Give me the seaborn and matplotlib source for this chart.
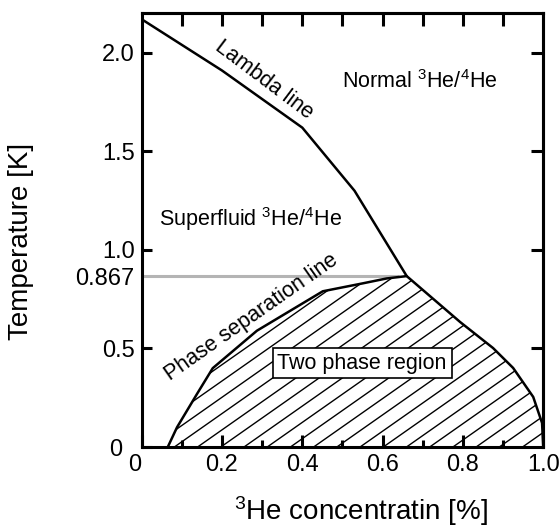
import numpy as np
import pandas as pd
import matplotlib
matplotlib.use("Agg")
import matplotlib.pyplot as plt
import matplotlib.transforms as mtransforms
import seaborn as sns
from matplotlib.patches import Polygon
from matplotlib.collections import LineCollection
from matplotlib.ticker import NullFormatter, FixedLocator

# Lambda line (superfluid transition), x = 3He fraction, T in kelvin
lambda_x = [0.0, 0.2, 0.4, 0.53, 0.66]
lambda_T = [2.17, 1.91, 1.62, 1.30, 0.867]

# Phase separation boundary: dilute branch up to the tricritical point, then concentrated branch
sep_x = [0.065, 0.088, 0.138, 0.177, 0.287, 0.451, 0.55, 0.61, 0.66,
         0.793, 0.875, 0.925, 0.975, 0.997, 1.0]
sep_T = [0.0, 0.10, 0.27, 0.40, 0.59, 0.79, 0.83, 0.855, 0.867,
         0.634, 0.502, 0.401, 0.254, 0.122, 0.0]

T_tricritical = 0.867

x_ticks = [0, 0.2, 0.4, 0.6, 0.8, 1.0]
x_tick_labels = ["0", "0.2", "0.4", "0.6", "0.8", "1.0"]
x_minor_ticks = [0.1, 0.3, 0.5, 0.7, 0.9]
top_ticks = [0.1, 0.2, 0.3, 0.4, 0.5, 0.6, 0.7, 0.8, 0.9]
y_ticks = [0, 0.5, 0.867, 1.0, 1.5, 2.0]
y_tick_labels = ["0", "0.5", "0.867", "1.0", "1.5", "2.0"]
right_ticks = [0.5, 1.0, 1.5, 2.0]

lambda_df = pd.DataFrame({"x": lambda_x, "T": lambda_T})
sep_df = pd.DataFrame({"x": sep_x, "T": sep_T})

sns.set_theme(style="ticks")
plt.rcParams["font.family"] = ["Liberation Sans", "DejaVu Sans"]
plt.rcParams["mathtext.fontset"] = "custom"
plt.rcParams["mathtext.rm"] = "Liberation Sans"
plt.rcParams["mathtext.it"] = "Liberation Sans:italic"
plt.rcParams["mathtext.bf"] = "Liberation Sans:bold"
plt.rcParams["mathtext.default"] = "rm"
plt.rcParams["text.color"] = "black"
plt.rcParams["axes.labelcolor"] = "black"
plt.rcParams["xtick.color"] = "black"
plt.rcParams["ytick.color"] = "black"

fig = plt.figure(figsize=(5.6, 5.29), dpi=100)
ax = fig.add_axes([0.2530, 0.1550, 0.7171, 0.8198])
ax.set_xlim(0, 1.0)
ax.set_ylim(0, 2.2)

# tricritical temperature marker
ax.hlines(T_tricritical, 0, 0.64, color="#b4b4b4", linewidth=2.2, zorder=1)

# hatched two-phase region, clipped to the coexistence curve
region = Polygon(np.column_stack([sep_x, sep_T]), closed=True,
                 facecolor="none", edgecolor="none")
ax.add_patch(region)
hatch_slope = 1.43
hatch_step = 0.0578
hatch_origin = 0.486
starts = hatch_origin + hatch_step * np.arange(-12, 10)
segments = [[(x0, 0.0), (x0 + 1.0 / hatch_slope, 1.0)] for x0 in starts]
hatch = LineCollection(segments, colors="black", linewidths=1.0, zorder=2)
ax.add_collection(hatch)
hatch.set_clip_path(region)

sns.lineplot(data=lambda_df, x="x", y="T", sort=False, estimator=None,
             color="black", linewidth=1.8, ax=ax, zorder=3)
sns.lineplot(data=sep_df, x="x", y="T", sort=False, estimator=None,
             color="black", linewidth=1.8, ax=ax, zorder=3)

# spines and ticks
for s in ax.spines.values():
    s.set_visible(True)
    s.set_linewidth(2.2)
    s.set_color("black")

ax.set_xticks(x_ticks, x_tick_labels)
ax.xaxis.set_minor_locator(FixedLocator(x_minor_ticks))
ax.set_yticks(y_ticks, y_tick_labels)
ax.tick_params(axis="both", which="major", direction="in", width=2.2,
               labelsize=17, colors="black")
ax.tick_params(axis="x", which="major", length=8.5, pad=5)
ax.tick_params(axis="x", which="minor", direction="in", length=5, width=2.2)
ax.tick_params(axis="y", which="major", length=7.5, pad=5)
ax.yaxis.get_major_ticks()[2].tick1line.set_visible(False)

# keep the two zero labels apart at the corner
ax.get_xticklabels()[0].set_horizontalalignment("right")
y_zero = ax.get_yticklabels()[0]
y_zero.set_transform(y_zero.get_transform() +
                     mtransforms.ScaledTranslation(-0.12, 0, fig.dpi_scale_trans))

top = ax.secondary_xaxis("top")
top.set_xticks(top_ticks)
top.xaxis.set_major_formatter(NullFormatter())
top.tick_params(direction="in", length=9, width=2.2)
top.spines["top"].set_linewidth(2.2)

right = ax.secondary_yaxis("right")
right.set_yticks(right_ticks)
right.yaxis.set_major_formatter(NullFormatter())
right.tick_params(direction="in", length=8.5, width=2.2)
right.spines["right"].set_linewidth(2.2)

ax.set_xlabel(r"$^{3}$He concentratin [%]", fontsize=20)
ax.set_ylabel("Temperature [K]", fontsize=20)
ax.xaxis.set_label_coords(0.547, -0.108)
ax.yaxis.set_label_coords(-0.268, 0.475)

# region annotations
ax.text(0.304, 1.862, "Lambda line", fontsize=15.5, rotation=-37,
        ha="center", va="center", rotation_mode="anchor")
ax.text(0.693, 1.852, r"Normal $^{3}$He/$^{4}$He", fontsize=15.5,
        ha="center", va="center")
ax.text(0.272, 1.157, r"Superfluid $^{3}$He/$^{4}$He", fontsize=15.5,
        ha="center", va="center")
ax.text(0.272, 0.66, "Phase separation line", fontsize=15.5, rotation=35,
        ha="center", va="center", rotation_mode="anchor")
ax.text(0.549, 0.426, "Two phase region", fontsize=15.5, ha="center", va="center",
        zorder=5,
        bbox=dict(boxstyle="square,pad=0.22", facecolor="white",
                  edgecolor="black", linewidth=1.2))

fig.savefig("out.png", dpi=100)
